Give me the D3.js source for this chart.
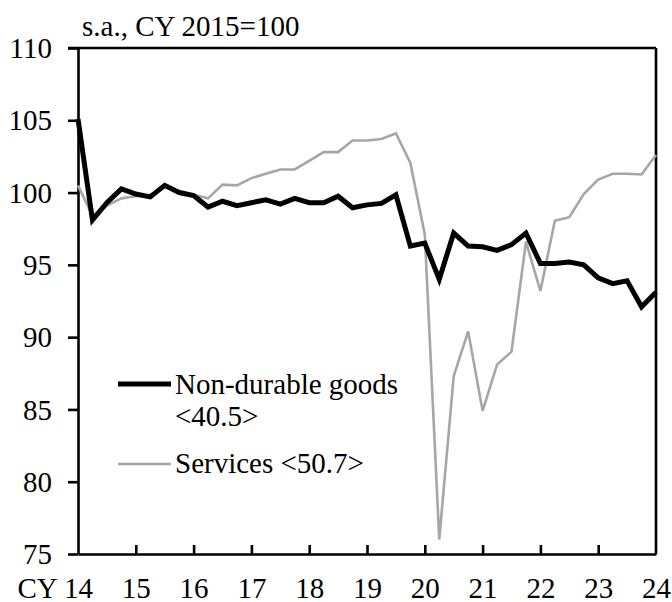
<!DOCTYPE html>
<html>
<head>
<meta charset="utf-8">
<script src="https://cdn.jsdelivr.net/npm/d3@7"></script>
<style>
  body { margin: 0; background: #fff; }
  svg text { font-family: "Liberation Serif", "Times New Roman", serif; fill: #000; }
</style>
</head>
<body>
<div id="chart"></div>
<script>
// quarterly index, 2014Q1 .. 2024Q1 (s.a., CY2015=100)
var quarters = d3.range(41).map(function (i) { return 2014 + i / 4; });

var nonDurable = [
  105.1, 98.1, 99.3, 100.25, 99.9, 99.7, 100.5, 100.0, 99.8, 99.0,
  99.4, 99.1, 99.3, 99.5, 99.2, 99.6, 99.3, 99.3, 99.75, 98.95,
  99.15, 99.25, 99.85, 96.3, 96.5, 94.0, 97.2, 96.3, 96.25, 96.0,
  96.4, 97.2, 95.1, 95.1, 95.2, 95.0, 94.1, 93.7, 93.9, 92.1,
  93.1
];

var services = [
  100.5, 98.4, 99.1, 99.6, 99.75, 99.85, 100.4, 100.1, 99.85, 99.6,
  100.55, 100.5, 101.0, 101.3, 101.6, 101.6, 102.2, 102.8, 102.8, 103.6,
  103.6, 103.7, 104.1, 102.05, 97.1, 76.0, 87.3, 90.4, 84.9, 88.1,
  89.0, 96.6, 93.2, 98.05, 98.3, 99.9, 100.9, 101.3, 101.3, 101.25,
  102.6
];

var yearTicks = [2014, 2015, 2016, 2017, 2018, 2019, 2020, 2021, 2022, 2023, 2024];
var yTicks = [75, 80, 85, 90, 95, 100, 105, 110];

var W = 672, H = 602;
var plotL = 78, plotR = 656, plotT = 48, plotB = 554;
var fs = "29px";

var svg = d3.select("#chart").append("svg")
  .attr("width", W)
  .attr("height", H);

var x = d3.scaleLinear().domain([2014, 2024]).range([plotL, plotR]);
var y = d3.scaleLinear().domain([75, 110]).range([plotB, plotT]);

// y axis (ticks outside)
var yAxis = svg.append("g")
  .attr("transform", "translate(" + plotL + ",0)")
  .call(d3.axisLeft(y).tickValues(yTicks).tickSize(10).tickPadding(16).tickSizeOuter(0));
yAxis.select(".domain").attr("stroke-width", 2.6);
yAxis.selectAll(".tick line").attr("stroke-width", 2.6);
yAxis.selectAll("text").style("font-size", fs).attr("dy", "0.33em");

// x axis (ticks inside)
var xAxis = svg.append("g")
  .attr("transform", "translate(0," + plotB + ")")
  .call(d3.axisBottom(x).tickValues(yearTicks).tickSize(-9).tickSizeOuter(0)
    .tickFormat(function (d) { return d3.format("02d")(d % 100); }));
xAxis.select(".domain").attr("stroke-width", 2.6);
xAxis.selectAll(".tick line").attr("stroke-width", 2.6);
xAxis.selectAll(".tick line").filter(function (d) { return d === 2014 || d === 2024; }).remove();
xAxis.selectAll("text").style("font-size", fs).attr("y", 23).attr("dy", "0.71em");
xAxis.selectAll(".tick").filter(function (d) { return d === 2014; })
  .select("text")
  .attr("text-anchor", "end")
  .attr("dx", "0.5em")
  .text("CY 14");

// top and right frame
svg.append("line")
  .attr("x1", plotL - 10).attr("x2", plotR)
  .attr("y1", plotT).attr("y2", plotT)
  .attr("stroke", "#000").attr("stroke-width", 2.6);
svg.append("line")
  .attr("x1", plotR).attr("x2", plotR)
  .attr("y1", plotT).attr("y2", plotB)
  .attr("stroke", "#000").attr("stroke-width", 2.6);

var line = d3.line()
  .x(function (d, i) { return x(quarters[i]); })
  .y(function (d) { return y(d); });

svg.append("path")
  .datum(services)
  .attr("d", line)
  .attr("fill", "none")
  .attr("stroke", "#a6a6a6")
  .attr("stroke-width", 2.6)
  .attr("stroke-linejoin", "miter");

svg.append("path")
  .datum(nonDurable)
  .attr("d", line)
  .attr("fill", "none")
  .attr("stroke", "#000")
  .attr("stroke-width", 5)
  .attr("stroke-linejoin", "miter");

// unit label
svg.append("text")
  .attr("x", 82).attr("y", 36)
  .style("font-size", fs)
  .text("s.a., CY 2015=100");

// legend
var legend = svg.append("g");
legend.append("line")
  .attr("x1", 118).attr("x2", 171).attr("y1", 384).attr("y2", 384)
  .attr("stroke", "#000").attr("stroke-width", 5);
legend.append("text")
  .attr("x", 175).attr("y", 394)
  .style("font-size", fs)
  .text("Non-durable goods");
legend.append("text")
  .attr("x", 175).attr("y", 426)
  .style("font-size", fs)
  .text("<40.5>");
legend.append("line")
  .attr("x1", 118).attr("x2", 171).attr("y1", 464).attr("y2", 464)
  .attr("stroke", "#a6a6a6").attr("stroke-width", 2.6);
legend.append("text")
  .attr("x", 175).attr("y", 473)
  .style("font-size", fs)
  .text("Services <50.7>");
</script>
</body>
</html>
